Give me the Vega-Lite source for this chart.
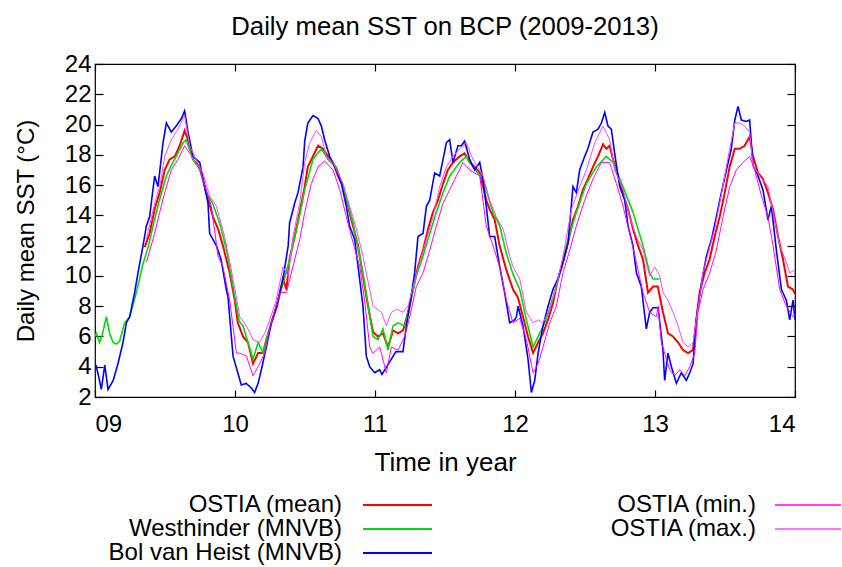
{
  "$schema": "https://vega.github.io/schema/vega-lite/v6.json",
  "padding": {"left": 13, "top": 13, "right": 0, "bottom": 0},
  "autosize": {"type": "pad"},
  "config": {
    "font": "Liberation Sans",
    "view": {"stroke": "#000000", "strokeWidth": 1.2},
    "axis": {"grid": false, "domain": false, "tickColor": "#000000", "tickWidth": 1.2, "labelColor": "#000000", "titleColor": "#000000", "titleFontWeight": "normal", "labelFont": "Liberation Sans", "titleFont": "Liberation Sans"}
  },
  "datasets": {
    "m": [{"t":9.355,"v":11.9},{"t":9.39,"v":12.8},{"t":9.426,"v":14.4},{"t":9.462,"v":15.5},{"t":9.498,"v":17.0},{"t":9.533,"v":17.7},{"t":9.57,"v":17.9},{"t":9.605,"v":18.6},{"t":9.64,"v":19.6},{"t":9.664,"v":19.0},{"t":9.70,"v":17.7},{"t":9.748,"v":17.2},{"t":9.795,"v":15.5},{"t":9.843,"v":13.9},{"t":9.879,"v":13.1},{"t":9.914,"v":12.0},{"t":9.962,"v":10.2},{"t":9.998,"v":8.4},{"t":10.02,"v":6.9},{"t":10.057,"v":6.0},{"t":10.093,"v":5.6},{"t":10.129,"v":4.2},{"t":10.165,"v":4.9},{"t":10.2,"v":4.9},{"t":10.224,"v":5.8},{"t":10.26,"v":6.9},{"t":10.3,"v":8.0},{"t":10.343,"v":9.8},{"t":10.367,"v":9.1},{"t":10.39,"v":11.1},{"t":10.426,"v":12.6},{"t":10.462,"v":14.2},{"t":10.498,"v":15.9},{"t":10.52,"v":17.2},{"t":10.557,"v":17.9},{"t":10.593,"v":18.6},{"t":10.629,"v":18.4},{"t":10.664,"v":17.9},{"t":10.70,"v":17.5},{"t":10.736,"v":16.6},{"t":10.772,"v":15.9},{"t":10.807,"v":14.6},{"t":10.843,"v":13.3},{"t":10.879,"v":12.0},{"t":10.914,"v":10.0},{"t":10.95,"v":8.0},{"t":10.986,"v":6.3},{"t":11.02,"v":6.0},{"t":11.057,"v":6.2},{"t":11.093,"v":5.3},{"t":11.129,"v":6.4},{"t":11.165,"v":6.2},{"t":11.2,"v":6.4},{"t":11.236,"v":7.6},{"t":11.271,"v":9.1},{"t":11.307,"v":10.6},{"t":11.343,"v":11.7},{"t":11.379,"v":13.1},{"t":11.414,"v":14.2},{"t":11.45,"v":15.0},{"t":11.486,"v":16.1},{"t":11.52,"v":17.0},{"t":11.557,"v":17.5},{"t":11.605,"v":17.9},{"t":11.64,"v":18.1},{"t":11.676,"v":17.5},{"t":11.712,"v":17.2},{"t":11.748,"v":16.8},{"t":11.795,"v":15.0},{"t":11.819,"v":14.4},{"t":11.855,"v":13.7},{"t":11.89,"v":12.0},{"t":11.938,"v":10.4},{"t":11.986,"v":9.1},{"t":12.02,"v":8.6},{"t":12.057,"v":7.3},{"t":12.093,"v":6.0},{"t":12.129,"v":4.9},{"t":12.165,"v":5.6},{"t":12.2,"v":6.2},{"t":12.236,"v":7.1},{"t":12.271,"v":8.2},{"t":12.307,"v":9.8},{"t":12.343,"v":10.9},{"t":12.379,"v":12.2},{"t":12.414,"v":13.7},{"t":12.45,"v":14.6},{"t":12.486,"v":15.7},{"t":12.52,"v":16.4},{"t":12.557,"v":17.2},{"t":12.593,"v":17.9},{"t":12.629,"v":18.7},{"t":12.652,"v":18.4},{"t":12.676,"v":18.6},{"t":12.70,"v":17.7},{"t":12.736,"v":16.6},{"t":12.771,"v":15.5},{"t":12.807,"v":14.4},{"t":12.843,"v":13.1},{"t":12.879,"v":12.0},{"t":12.914,"v":11.1},{"t":12.95,"v":8.9},{"t":12.986,"v":9.3},{"t":13.02,"v":9.3},{"t":13.057,"v":7.6},{"t":13.093,"v":6.2},{"t":13.129,"v":6.0},{"t":13.165,"v":5.6},{"t":13.2,"v":5.1},{"t":13.236,"v":4.9},{"t":13.271,"v":5.1},{"t":13.295,"v":7.1},{"t":13.319,"v":8.9},{"t":13.355,"v":10.2},{"t":13.39,"v":11.1},{"t":13.426,"v":12.6},{"t":13.462,"v":13.9},{"t":13.498,"v":15.5},{"t":13.533,"v":17.2},{"t":13.57,"v":18.4},{"t":13.605,"v":18.4},{"t":13.64,"v":18.6},{"t":13.676,"v":19.2},{"t":13.70,"v":17.9},{"t":13.736,"v":16.8},{"t":13.771,"v":16.4},{"t":13.807,"v":15.5},{"t":13.843,"v":14.4},{"t":13.879,"v":12.6},{"t":13.914,"v":11.1},{"t":13.95,"v":9.3},{"t":13.986,"v":9.1},{"t":14.0,"v":8.8}],
    "w": [{"t":9.0,"v":6.0},{"t":9.01,"v":6.2},{"t":9.033,"v":5.6},{"t":9.057,"v":6.3},{"t":9.081,"v":7.3},{"t":9.105,"v":6.2},{"t":9.129,"v":5.6},{"t":9.152,"v":5.5},{"t":9.176,"v":5.7},{"t":9.212,"v":6.9},{"t":9.248,"v":7.3},{"t":9.295,"v":8.9},{"t":9.343,"v":10.8},{"t":9.38,"v":11.9},{"t":9.414,"v":13.3},{"t":9.46,"v":15.0},{"t":9.51,"v":16.6},{"t":9.545,"v":17.3},{"t":9.58,"v":17.9},{"t":9.63,"v":18.8},{"t":9.65,"v":19.0},{"t":9.70,"v":17.7},{"t":9.75,"v":17.0},{"t":9.795,"v":15.5},{"t":9.84,"v":14.8},{"t":9.89,"v":13.5},{"t":9.94,"v":11.7},{"t":9.986,"v":9.3},{"t":10.03,"v":7.0},{"t":10.057,"v":6.7},{"t":10.093,"v":5.6},{"t":10.129,"v":4.5},{"t":10.165,"v":5.6},{"t":10.2,"v":4.9},{"t":10.236,"v":6.2},{"t":10.295,"v":8.0},{"t":10.343,"v":9.5},{"t":10.39,"v":11.1},{"t":10.462,"v":14.0},{"t":10.498,"v":15.7},{"t":10.557,"v":17.7},{"t":10.617,"v":18.4},{"t":10.664,"v":17.7},{"t":10.724,"v":17.2},{"t":10.772,"v":15.9},{"t":10.843,"v":13.5},{"t":10.914,"v":10.2},{"t":10.986,"v":6.0},{"t":11.022,"v":5.8},{"t":11.057,"v":6.5},{"t":11.093,"v":5.1},{"t":11.129,"v":6.7},{"t":11.165,"v":6.9},{"t":11.212,"v":6.7},{"t":11.248,"v":8.0},{"t":11.295,"v":10.0},{"t":11.343,"v":11.3},{"t":11.391,"v":12.8},{"t":11.438,"v":14.2},{"t":11.486,"v":15.5},{"t":11.534,"v":16.6},{"t":11.605,"v":17.5},{"t":11.652,"v":17.9},{"t":11.7,"v":17.2},{"t":11.771,"v":16.4},{"t":11.843,"v":14.2},{"t":11.891,"v":13.3},{"t":11.938,"v":11.5},{"t":11.986,"v":10.1},{"t":12.034,"v":9.1},{"t":12.081,"v":7.1},{"t":12.129,"v":5.3},{"t":12.176,"v":6.2},{"t":12.224,"v":7.1},{"t":12.295,"v":9.3},{"t":12.367,"v":12.0},{"t":12.438,"v":14.2},{"t":12.51,"v":16.1},{"t":12.581,"v":17.2},{"t":12.652,"v":17.9},{"t":12.7,"v":17.5},{"t":12.771,"v":15.9},{"t":12.843,"v":14.2},{"t":12.914,"v":12.0},{"t":12.962,"v":10.2},{"t":12.986,"v":9.8},{"t":13.033,"v":9.8}],
    "b": [{"t":9.0,"v":3.8},{"t":9.01,"v":4.0},{"t":9.03,"v":3.2},{"t":9.045,"v":2.5},{"t":9.07,"v":4.1},{"t":9.093,"v":2.5},{"t":9.13,"v":3.1},{"t":9.164,"v":4.2},{"t":9.2,"v":5.6},{"t":9.224,"v":6.9},{"t":9.248,"v":7.3},{"t":9.283,"v":8.9},{"t":9.307,"v":10.2},{"t":9.343,"v":12.0},{"t":9.367,"v":13.3},{"t":9.39,"v":13.9},{"t":9.426,"v":16.6},{"t":9.45,"v":15.9},{"t":9.486,"v":18.8},{"t":9.51,"v":20.1},{"t":9.545,"v":19.5},{"t":9.58,"v":19.9},{"t":9.617,"v":20.4},{"t":9.64,"v":20.9},{"t":9.664,"v":19.5},{"t":9.70,"v":17.9},{"t":9.748,"v":17.5},{"t":9.783,"v":15.9},{"t":9.807,"v":14.8},{"t":9.819,"v":12.8},{"t":9.867,"v":12.0},{"t":9.90,"v":11.1},{"t":9.938,"v":9.1},{"t":9.95,"v":8.6},{"t":9.986,"v":4.7},{"t":10.02,"v":3.6},{"t":10.045,"v":2.8},{"t":10.08,"v":2.9},{"t":10.117,"v":2.6},{"t":10.14,"v":2.3},{"t":10.165,"v":2.9},{"t":10.188,"v":3.8},{"t":10.224,"v":5.3},{"t":10.26,"v":6.9},{"t":10.296,"v":8.0},{"t":10.343,"v":9.8},{"t":10.38,"v":12.0},{"t":10.39,"v":13.5},{"t":10.426,"v":14.8},{"t":10.45,"v":15.5},{"t":10.486,"v":17.2},{"t":10.498,"v":18.9},{"t":10.52,"v":20.1},{"t":10.557,"v":20.6},{"t":10.593,"v":20.4},{"t":10.617,"v":19.9},{"t":10.64,"v":19.0},{"t":10.676,"v":17.9},{"t":10.724,"v":17.0},{"t":10.76,"v":16.1},{"t":10.795,"v":14.6},{"t":10.819,"v":13.3},{"t":10.855,"v":12.4},{"t":10.89,"v":9.8},{"t":10.914,"v":8.0},{"t":10.938,"v":4.7},{"t":10.962,"v":4.0},{"t":10.998,"v":3.6},{"t":11.033,"v":3.8},{"t":11.05,"v":3.5},{"t":11.15,"v":5.0},{"t":11.2,"v":5.0},{"t":11.224,"v":6.7},{"t":11.248,"v":8.0},{"t":11.283,"v":10.2},{"t":11.307,"v":12.6},{"t":11.343,"v":12.8},{"t":11.367,"v":14.6},{"t":11.391,"v":15.0},{"t":11.426,"v":16.8},{"t":11.462,"v":16.6},{"t":11.486,"v":17.7},{"t":11.51,"v":18.8},{"t":11.533,"v":19.0},{"t":11.557,"v":17.5},{"t":11.593,"v":18.6},{"t":11.617,"v":18.6},{"t":11.64,"v":18.9},{"t":11.676,"v":17.7},{"t":11.712,"v":17.0},{"t":11.748,"v":17.5},{"t":11.771,"v":16.4},{"t":11.795,"v":14.6},{"t":11.819,"v":12.6},{"t":11.855,"v":12.6},{"t":11.891,"v":10.6},{"t":11.926,"v":8.9},{"t":11.962,"v":6.9},{"t":11.998,"v":7.1},{"t":12.01,"v":7.3},{"t":12.022,"v":8.0},{"t":12.057,"v":6.7},{"t":12.093,"v":4.5},{"t":12.117,"v":2.3},{"t":12.141,"v":3.1},{"t":12.165,"v":4.9},{"t":12.2,"v":6.7},{"t":12.236,"v":8.0},{"t":12.271,"v":9.1},{"t":12.307,"v":9.8},{"t":12.343,"v":10.9},{"t":12.379,"v":12.2},{"t":12.414,"v":15.9},{"t":12.438,"v":15.5},{"t":12.462,"v":17.0},{"t":12.498,"v":17.9},{"t":12.52,"v":18.4},{"t":12.557,"v":19.5},{"t":12.593,"v":19.7},{"t":12.617,"v":20.1},{"t":12.641,"v":20.8},{"t":12.664,"v":19.9},{"t":12.688,"v":19.7},{"t":12.712,"v":18.1},{"t":12.748,"v":15.9},{"t":12.784,"v":15.0},{"t":12.807,"v":13.3},{"t":12.843,"v":12.0},{"t":12.867,"v":10.2},{"t":12.902,"v":9.3},{"t":12.938,"v":6.5},{"t":12.962,"v":7.6},{"t":12.986,"v":7.9},{"t":13.022,"v":7.9},{"t":13.057,"v":5.1},{"t":13.069,"v":3.1},{"t":13.093,"v":4.9},{"t":13.117,"v":4.0},{"t":13.153,"v":2.9},{"t":13.188,"v":3.6},{"t":13.224,"v":3.1},{"t":13.248,"v":3.6},{"t":13.272,"v":4.2},{"t":13.295,"v":7.1},{"t":13.331,"v":9.5},{"t":13.367,"v":11.3},{"t":13.403,"v":12.4},{"t":13.438,"v":13.9},{"t":13.474,"v":15.5},{"t":13.51,"v":17.0},{"t":13.545,"v":18.4},{"t":13.57,"v":20.3},{"t":13.593,"v":21.2},{"t":13.617,"v":20.3},{"t":13.652,"v":20.2},{"t":13.676,"v":20.3},{"t":13.7,"v":17.3},{"t":13.736,"v":16.6},{"t":13.771,"v":15.7},{"t":13.807,"v":13.7},{"t":13.831,"v":14.6},{"t":13.867,"v":11.7},{"t":13.903,"v":9.1},{"t":13.938,"v":8.4},{"t":13.962,"v":7.1},{"t":13.986,"v":8.4},{"t":14.0,"v":7.1}],
    "n": [{"t":9.367,"v":10.9},{"t":9.426,"v":12.8},{"t":9.462,"v":14.2},{"t":9.498,"v":15.5},{"t":9.545,"v":17.0},{"t":9.593,"v":17.7},{"t":9.64,"v":18.6},{"t":9.676,"v":18.1},{"t":9.724,"v":17.7},{"t":9.77,"v":16.4},{"t":9.831,"v":14.6},{"t":9.879,"v":11.3},{"t":9.914,"v":10.6},{"t":9.962,"v":8.4},{"t":10.01,"v":4.9},{"t":10.034,"v":4.9},{"t":10.081,"v":4.7},{"t":10.129,"v":3.4},{"t":10.165,"v":4.0},{"t":10.212,"v":4.9},{"t":10.248,"v":6.5},{"t":10.319,"v":8.9},{"t":10.367,"v":8.9},{"t":10.403,"v":10.2},{"t":10.462,"v":12.4},{"t":10.498,"v":14.2},{"t":10.545,"v":16.1},{"t":10.593,"v":17.2},{"t":10.64,"v":17.6},{"t":10.7,"v":17.0},{"t":10.748,"v":15.7},{"t":10.795,"v":13.9},{"t":10.843,"v":12.2},{"t":10.891,"v":10.6},{"t":10.926,"v":8.4},{"t":10.962,"v":5.3},{"t":10.986,"v":4.9},{"t":11.034,"v":5.3},{"t":11.081,"v":3.6},{"t":11.117,"v":5.3},{"t":11.165,"v":5.1},{"t":11.212,"v":6.0},{"t":11.248,"v":7.3},{"t":11.295,"v":9.3},{"t":11.343,"v":10.2},{"t":11.391,"v":11.7},{"t":11.438,"v":13.3},{"t":11.486,"v":14.8},{"t":11.534,"v":15.7},{"t":11.581,"v":16.6},{"t":11.629,"v":17.5},{"t":11.676,"v":17.0},{"t":11.748,"v":16.6},{"t":11.795,"v":13.3},{"t":11.843,"v":12.0},{"t":11.891,"v":10.6},{"t":11.938,"v":8.4},{"t":11.986,"v":6.9},{"t":12.034,"v":7.2},{"t":12.081,"v":5.8},{"t":12.129,"v":3.6},{"t":12.165,"v":4.2},{"t":12.2,"v":5.3},{"t":12.248,"v":6.9},{"t":12.295,"v":8.0},{"t":12.343,"v":10.2},{"t":12.391,"v":11.7},{"t":12.438,"v":13.3},{"t":12.498,"v":15.0},{"t":12.557,"v":16.4},{"t":12.617,"v":17.5},{"t":12.676,"v":17.5},{"t":12.724,"v":16.1},{"t":12.772,"v":14.6},{"t":12.819,"v":12.8},{"t":12.867,"v":10.9},{"t":12.914,"v":8.9},{"t":12.962,"v":7.6},{"t":13.01,"v":7.3},{"t":13.022,"v":8.0},{"t":13.046,"v":5.6},{"t":13.069,"v":4.9},{"t":13.105,"v":3.8},{"t":13.141,"v":3.4},{"t":13.176,"v":3.8},{"t":13.212,"v":3.4},{"t":13.248,"v":4.0},{"t":13.284,"v":4.9},{"t":13.307,"v":7.6},{"t":13.343,"v":9.1},{"t":13.391,"v":10.2},{"t":13.438,"v":11.7},{"t":13.486,"v":13.9},{"t":13.534,"v":15.9},{"t":13.581,"v":17.0},{"t":13.629,"v":17.5},{"t":13.676,"v":17.9},{"t":13.712,"v":17.0},{"t":13.76,"v":15.3},{"t":13.807,"v":13.9},{"t":13.843,"v":12.0},{"t":13.891,"v":9.1},{"t":13.938,"v":8.0},{"t":13.986,"v":7.3},{"t":14.0,"v":7.4}],
    "x": [{"t":9.367,"v":12.4},{"t":9.426,"v":14.8},{"t":9.462,"v":15.9},{"t":9.498,"v":17.9},{"t":9.545,"v":19.0},{"t":9.593,"v":19.7},{"t":9.64,"v":20.6},{"t":9.676,"v":18.6},{"t":9.712,"v":17.9},{"t":9.77,"v":16.8},{"t":9.819,"v":15.3},{"t":9.867,"v":14.6},{"t":9.926,"v":12.6},{"t":9.986,"v":9.8},{"t":10.034,"v":7.3},{"t":10.081,"v":6.7},{"t":10.129,"v":5.8},{"t":10.176,"v":5.6},{"t":10.212,"v":6.2},{"t":10.248,"v":7.1},{"t":10.295,"v":8.4},{"t":10.343,"v":10.6},{"t":10.379,"v":10.0},{"t":10.414,"v":12.6},{"t":10.462,"v":14.8},{"t":10.498,"v":17.5},{"t":10.534,"v":18.8},{"t":10.581,"v":19.6},{"t":10.617,"v":19.2},{"t":10.652,"v":17.9},{"t":10.7,"v":17.5},{"t":10.772,"v":16.1},{"t":10.819,"v":14.6},{"t":10.867,"v":13.1},{"t":10.914,"v":11.3},{"t":10.962,"v":9.1},{"t":10.986,"v":8.0},{"t":11.046,"v":7.6},{"t":11.081,"v":6.7},{"t":11.117,"v":7.6},{"t":11.153,"v":7.8},{"t":11.2,"v":7.6},{"t":11.236,"v":8.0},{"t":11.272,"v":9.3},{"t":11.319,"v":10.9},{"t":11.367,"v":12.4},{"t":11.414,"v":13.9},{"t":11.462,"v":15.9},{"t":11.51,"v":17.2},{"t":11.557,"v":17.9},{"t":11.605,"v":18.4},{"t":11.652,"v":18.8},{"t":11.7,"v":17.7},{"t":11.772,"v":16.6},{"t":11.819,"v":15.0},{"t":11.867,"v":13.9},{"t":11.915,"v":13.1},{"t":11.962,"v":11.3},{"t":11.986,"v":10.6},{"t":12.034,"v":9.8},{"t":12.081,"v":7.6},{"t":12.129,"v":6.9},{"t":12.165,"v":7.1},{"t":12.2,"v":6.9},{"t":12.248,"v":7.8},{"t":12.295,"v":9.3},{"t":12.343,"v":11.3},{"t":12.403,"v":14.4},{"t":12.462,"v":15.9},{"t":12.51,"v":17.0},{"t":12.57,"v":18.8},{"t":12.629,"v":19.9},{"t":12.676,"v":19.0},{"t":12.712,"v":17.0},{"t":12.772,"v":15.7},{"t":12.819,"v":13.9},{"t":12.867,"v":12.6},{"t":12.915,"v":11.7},{"t":12.962,"v":10.0},{"t":12.998,"v":10.6},{"t":13.034,"v":10.0},{"t":13.057,"v":8.9},{"t":13.093,"v":8.4},{"t":13.129,"v":7.6},{"t":13.165,"v":6.7},{"t":13.2,"v":5.6},{"t":13.236,"v":5.3},{"t":13.272,"v":5.6},{"t":13.295,"v":7.1},{"t":13.343,"v":10.2},{"t":13.379,"v":11.5},{"t":13.426,"v":13.1},{"t":13.462,"v":14.8},{"t":13.498,"v":16.6},{"t":13.534,"v":18.4},{"t":13.57,"v":20.1},{"t":13.605,"v":20.1},{"t":13.641,"v":19.9},{"t":13.676,"v":19.5},{"t":13.7,"v":17.3},{"t":13.748,"v":16.6},{"t":13.807,"v":15.9},{"t":13.843,"v":14.2},{"t":13.891,"v":12.0},{"t":13.938,"v":10.9},{"t":13.962,"v":10.2},{"t":14.0,"v":10.4}],
    "legA": [{"s":"OSTIA (mean)"},{"s":"Westhinder (MNVB)"},{"s":"Bol van Heist (MNVB)"}],
    "legB": [{"s":"OSTIA (min.)"},{"s":"OSTIA (max.)"}]
  },
  "vconcat": [
    {
      "width": 700,
      "height": 333,
      "title": {"text": "Daily mean SST on BCP (2009-2013)", "fontSize": 25.7, "fontWeight": "normal", "font": "Liberation Sans", "color": "#000000", "offset": 11},
      "resolve": {"axis": {"x": "independent", "y": "independent"}},
      "layer": [
        {
          "data": {"name": "m"},
          "mark": {"type": "line", "strokeWidth": 2, "clip": true},
          "encoding": {
            "x": {"field": "t", "type": "quantitative", "scale": {"domain": [9, 14], "nice": false, "zero": false},
                  "axis": {"orient": "bottom", "values": [9, 10, 11, 12, 13, 14], "format": "02d", "tickSize": -7, "labelPadding": 22.5, "labelFontSize": 24, "title": "Time in year", "titleFontSize": 26, "titlePadding": 13}},
            "y": {"field": "v", "type": "quantitative", "scale": {"domain": [2, 24], "nice": false, "zero": false},
                  "axis": {"orient": "left", "values": [2, 4, 6, 8, 10, 12, 14, 16, 18, 20, 22, 24], "tickSize": -8, "labelPadding": 12, "labelFontSize": 24, "title": "Daily mean SST (°C)", "titleFontSize": 24, "titlePadding": 26}},
            "color": {"datum": "m", "type": "nominal", "scale": {"domain": ["m", "w", "b", "n", "x"], "range": ["#ff0000", "#00dd00", "#0000ff", "#ff00ff", "#ff44ff"]}, "legend": null}
          }
        },
        {
          "data": {"name": "w"},
          "mark": {"type": "line", "strokeWidth": 1.6, "clip": true},
          "encoding": {
            "x": {"field": "t", "type": "quantitative", "axis": {"orient": "top", "values": [9, 10, 11, 12, 13, 14], "tickSize": -7, "labels": false, "title": null}},
            "y": {"field": "v", "type": "quantitative", "axis": {"orient": "right", "values": [2, 4, 6, 8, 10, 12, 14, 16, 18, 20, 22, 24], "tickSize": -8, "labels": false, "title": null}},
            "color": {"datum": "w", "type": "nominal", "legend": null}
          }
        },
        {
          "data": {"name": "b"},
          "mark": {"type": "line", "strokeWidth": 1.6, "clip": true},
          "encoding": {
            "x": {"field": "t", "type": "quantitative", "axis": null},
            "y": {"field": "v", "type": "quantitative", "axis": null},
            "color": {"datum": "b", "type": "nominal", "legend": null}
          }
        },
        {
          "data": {"name": "n"},
          "mark": {"type": "line", "strokeWidth": 1, "clip": true},
          "encoding": {
            "x": {"field": "t", "type": "quantitative", "axis": null},
            "y": {"field": "v", "type": "quantitative", "axis": null},
            "color": {"datum": "n", "type": "nominal", "legend": null}
          }
        },
        {
          "data": {"name": "x"},
          "mark": {"type": "line", "strokeWidth": 1, "clip": true},
          "encoding": {
            "x": {"field": "t", "type": "quantitative", "axis": null},
            "y": {"field": "v", "type": "quantitative", "axis": null},
            "color": {"datum": "x", "type": "nominal", "legend": null}
          }
        }
      ]
    },
    {
      "spacing": 0,
      "hconcat": [
        {
          "data": {"name": "legA"}, "width": 267, "height": 72, "view": {"stroke": null},
          "mark": {"type": "text", "align": "right", "baseline": "middle", "dx": -20, "fontSize": 24, "font": "Liberation Sans", "color": "#000000"},
          "encoding": {"x": {"value": "width"}, "y": {"field": "s", "type": "nominal", "sort": null, "axis": null}, "text": {"field": "s"}}
        },
        {
          "data": {"name": "legA"}, "width": 69, "height": 72, "view": {"stroke": null},
          "mark": {"type": "rule", "strokeWidth": 2},
          "encoding": {"y": {"field": "s", "type": "nominal", "sort": null, "axis": null},
                       "color": {"field": "s", "type": "nominal", "scale": {"domain": ["OSTIA (mean)", "Westhinder (MNVB)", "Bol van Heist (MNVB)"], "range": ["#ff0000", "#00dd00", "#0000ff"]}, "legend": null}}
        },
        {
          "data": {"name": "legB"}, "width": 341, "height": 48, "view": {"stroke": null},
          "mark": {"type": "text", "align": "right", "baseline": "middle", "dx": -18, "fontSize": 24, "font": "Liberation Sans", "color": "#000000"},
          "encoding": {"x": {"value": "width"}, "y": {"field": "s", "type": "nominal", "sort": null, "axis": null}, "text": {"field": "s"}}
        },
        {
          "data": {"name": "legB"}, "width": 66, "height": 48, "view": {"stroke": null},
          "mark": {"type": "rule", "strokeWidth": 1.5},
          "encoding": {"y": {"field": "s", "type": "nominal", "sort": null, "axis": null},
                       "color": {"field": "s", "type": "nominal", "scale": {"domain": ["OSTIA (min.)", "OSTIA (max.)"], "range": ["#ff55ff", "#ff77ff"]}, "legend": null}}
        }
      ]
    }
  ],
  "spacing": 16
}
